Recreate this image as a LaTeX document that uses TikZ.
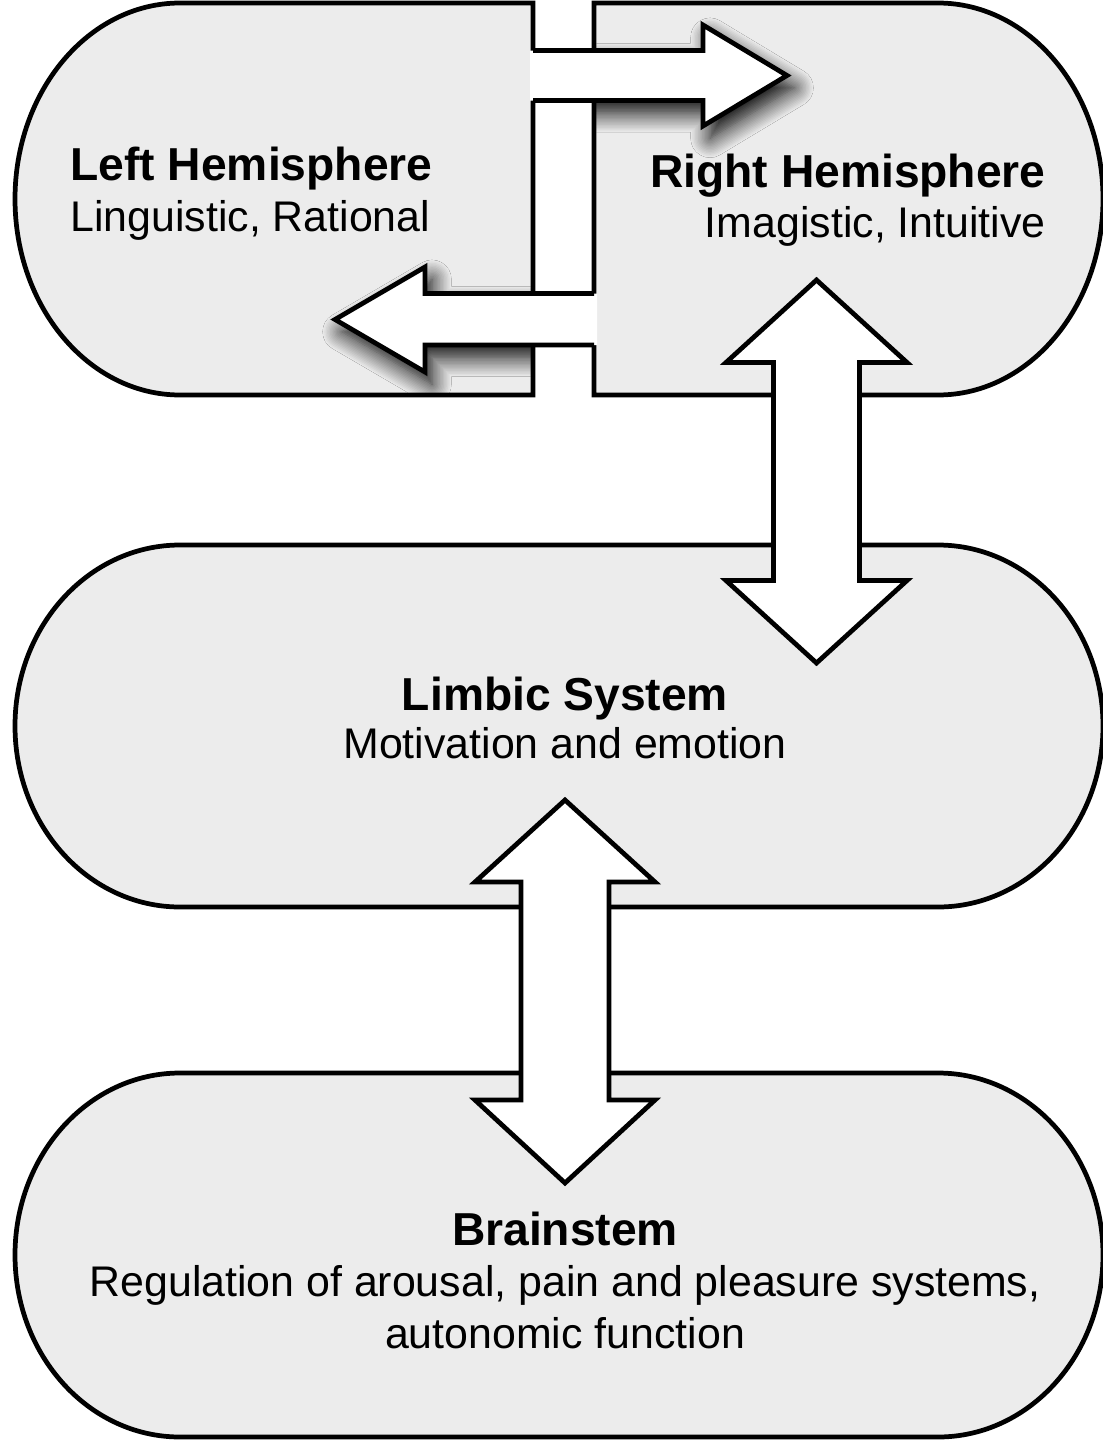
\documentclass[tikz,border=0pt]{standalone}
\usepackage{fontspec}
\setmainfont{Liberation Sans}
\usetikzlibrary{shadows.blur}

\definecolor{capsulegray}{RGB}{236,236,236}

\begin{document}
\begin{tikzpicture}[x=0.02cm, y=-0.02cm, line width=2.7pt]
	\tikzstyle{capsule}=[fill=capsulegray, draw=black]
	\tikzstyle{blockarrow}=[fill=white, draw=black]
	\tikzstyle{headtext}=[font=\fontsize{26.3}{30}\selectfont\bfseries, inner sep=0pt]
	\tikzstyle{subtext}=[font=\fontsize{24.4}{29.5}\selectfont, inner sep=0pt, align=center]
	\tikzstyle{arrowshadow}=[blur shadow={shadow xshift=4pt, shadow yshift=-7pt, shadow blur radius=11pt, shadow blur steps=14, shadow opacity=100}]

	\useasboundingbox (0,0) rectangle (1102,1440);

	% two halves of the cortex
	\draw[capsule] (533,3) -- (180,3) arc[start angle=270, end angle=90, x radius=165, y radius=196] -- (533,395) -- cycle;
	\draw[capsule] (594,3) -- (938,3) arc[start angle=270, end angle=450, x radius=165, y radius=196] -- (594,395) -- cycle;

	% limbic system and brainstem
	\draw[capsule] (180,545) -- (938,545) arc[start angle=270, end angle=450, x radius=165, y radius=181]
		-- (180,907) arc[start angle=90, end angle=270, x radius=165, y radius=181] -- cycle;
	\draw[capsule] (180,1073) -- (938,1073) arc[start angle=270, end angle=450, x radius=165, y radius=182]
		-- (180,1437) arc[start angle=90, end angle=270, x radius=165, y radius=182] -- cycle;

	% crossing arrows, shadows only on the grey
	\begin{scope}
		\clip (596,6) rectangle (1102,392);
		\fill[white, arrowshadow] (533,50.5) -- (703,50.5) -- (703,25) -- (787,75.5) -- (703,126) -- (703,100.5) -- (533,100.5) -- cycle;
	\end{scope}
	\begin{scope}
		\clip (0,6) rectangle (531,392);
		\fill[white, arrowshadow] (594,293.5) -- (425,293.5) -- (425,267) -- (335,319.5) -- (425,372) -- (425,345) -- (594,345) -- cycle;
	\end{scope}
	\fill[white] (530,50.5) -- (703,50.5) -- (703,25) -- (787,75.5) -- (703,126) -- (703,100.5) -- (530,100.5) -- cycle;
	\draw (533,50.5) -- (703,50.5) -- (703,25) -- (787,75.5) -- (703,126) -- (703,100.5) -- (533,100.5);
	\fill[white] (597,293.5) -- (425,293.5) -- (425,267) -- (335,319.5) -- (425,372) -- (425,345) -- (597,345) -- cycle;
	\draw (594,293.5) -- (425,293.5) -- (425,267) -- (335,319.5) -- (425,372) -- (425,345) -- (594,345);

	% up-down arrows
	\draw[blockarrow] (773.5,362.5) -- (726,362.5) -- (816.5,280) -- (907,362.5) -- (859.5,362.5) -- (859.5,580.5)
		-- (907,580.5) -- (816.5,663) -- (726,580.5) -- (773.5,580.5) -- cycle;
	\draw[blockarrow] (521,882) -- (475,882) -- (565,800) -- (655,882) -- (609,882) -- (609,1100)
		-- (655,1100) -- (565,1183) -- (475,1100) -- (521,1100) -- cycle;

	% labels
	\node[headtext, anchor=base west] (lefttitle) at (68,180) {Left Hemisphere};
	\node[subtext, anchor=base west] (leftsub) at (68,231) {Linguistic, Rational};
	\node[headtext, anchor=base east] (righttitle) at (1048,187) {Right Hemisphere};
	\node[subtext, anchor=base east] (rightsub) at (1048,237) {Imagistic, Intuitive};
	\node[headtext, anchor=base] (limbictitle) at (565,710) {Limbic System};
	\node[subtext, anchor=base] (limbicsub) at (565,758) {Motivation and emotion};
	\node[headtext, anchor=base] (stemtitle) at (565,1245) {Brainstem};
	\node[subtext, anchor=base] (stemsub) at (565,1348) {Regulation of arousal, pain and pleasure systems,\\autonomic function};
\end{tikzpicture}
\end{document}
